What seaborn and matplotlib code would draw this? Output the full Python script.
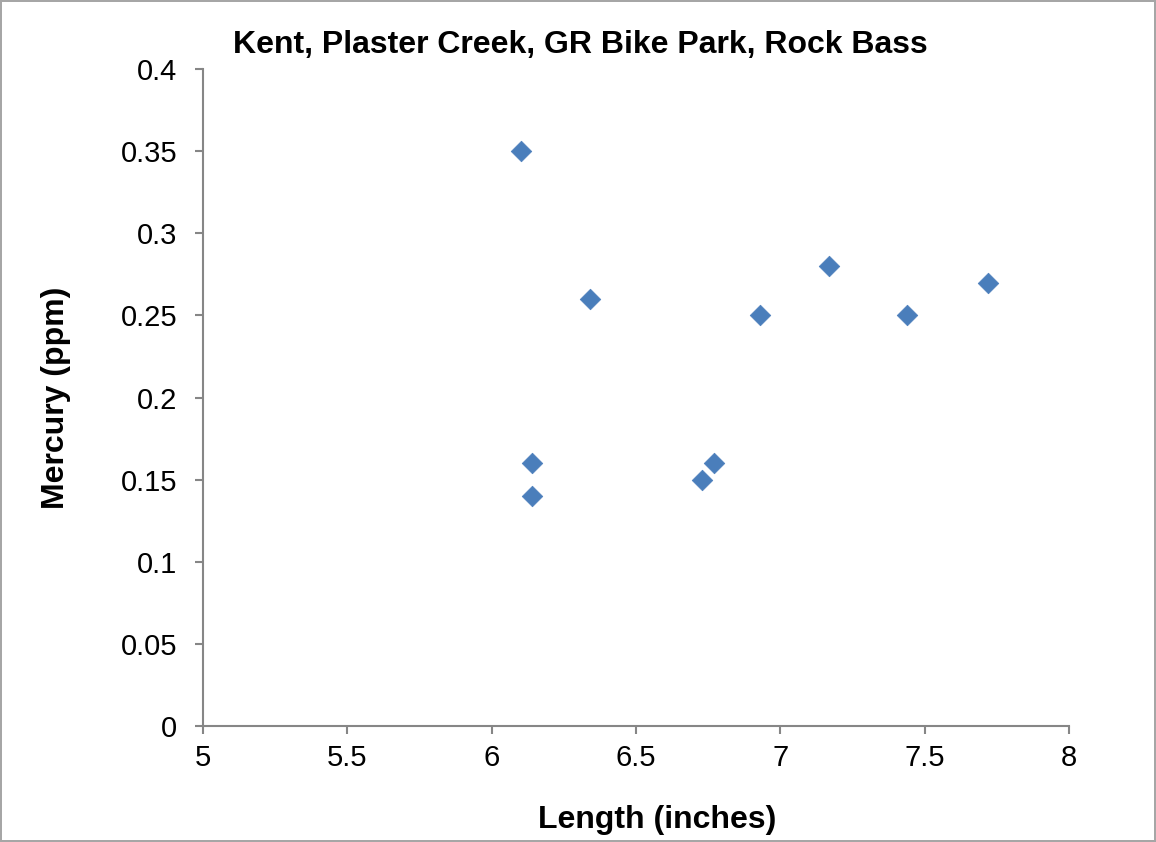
import numpy as np
import pandas as pd
import seaborn as sns
import matplotlib.pyplot as plt

sns.set_style("white")
plt.rcParams['font.family'] = ['Liberation Sans', 'DejaVu Sans']
plt.rcParams['text.color'] = "black"
plt.rcParams['axes.labelcolor'] = "black"

# Rock bass samples
length_in = [6.10, 6.34, 6.14, 6.14, 6.73, 6.77, 6.93, 7.17, 7.44, 7.72]
mercury_ppm = [0.35, 0.26, 0.16, 0.14, 0.15, 0.16, 0.25, 0.28, 0.25, 0.27]

x_ticks = [5, 5.5, 6, 6.5, 7, 7.5, 8]
x_tick_labels = ["5", "5.5", "6", "6.5", "7", "7.5", "8"]
y_ticks = [0, 0.05, 0.1, 0.15, 0.2, 0.25, 0.3, 0.35, 0.4]
y_tick_labels = ["0", "0.05", "0.1", "0.15", "0.2", "0.25", "0.3", "0.35", "0.4"]

df = pd.DataFrame({"Length": length_in, "Mercury": mercury_ppm})

fig = plt.figure(figsize=(11.56, 8.42), dpi=100)
fig.patch.set_edgecolor("#a6a6a6")
fig.patch.set_linewidth(1.5)
ax = fig.add_axes([0.1756, 0.1378, 0.7491, 0.7802])

sns.scatterplot(data=df, x="Length", y="Mercury", marker="D", s=110,
                color="#4a7ebb", edgecolor="#4a7ebb", linewidth=0.5, ax=ax)

ax.set_xlim(5, 8)
ax.set_ylim(0, 0.4)
ax.set_xticks(x_ticks)
ax.set_xticklabels(x_tick_labels)
ax.set_yticks(y_ticks)
ax.set_yticklabels(y_tick_labels)

# Excel-like gray axes with outward ticks
for side in ["top", "right"]:
    ax.spines[side].set_visible(False)
for side in ["left", "bottom"]:
    ax.spines[side].set_color("#868686")
    ax.spines[side].set_linewidth(1.5)
ax.tick_params(axis="both", bottom=True, left=True, direction="out", length=6, width=1.5,
               color="#868686", labelsize=21, labelcolor="black")
ax.tick_params(axis="x", pad=7)
ax.tick_params(axis="y", pad=12.5)

ax.set_xlabel("Length (inches)", fontsize=23, fontweight="bold", labelpad=24)
ax.xaxis.label.set_x(0.525)
ax.set_ylabel("Mercury (ppm)", fontsize=23, fontweight="bold", labelpad=36)
fig.text(0.502, 0.946, "Kent, Plaster Creek, GR Bike Park, Rock Bass",
         ha="center", va="center", fontsize=23, fontweight="bold")

fig.savefig("out.png", dpi=100, edgecolor=fig.get_edgecolor())
